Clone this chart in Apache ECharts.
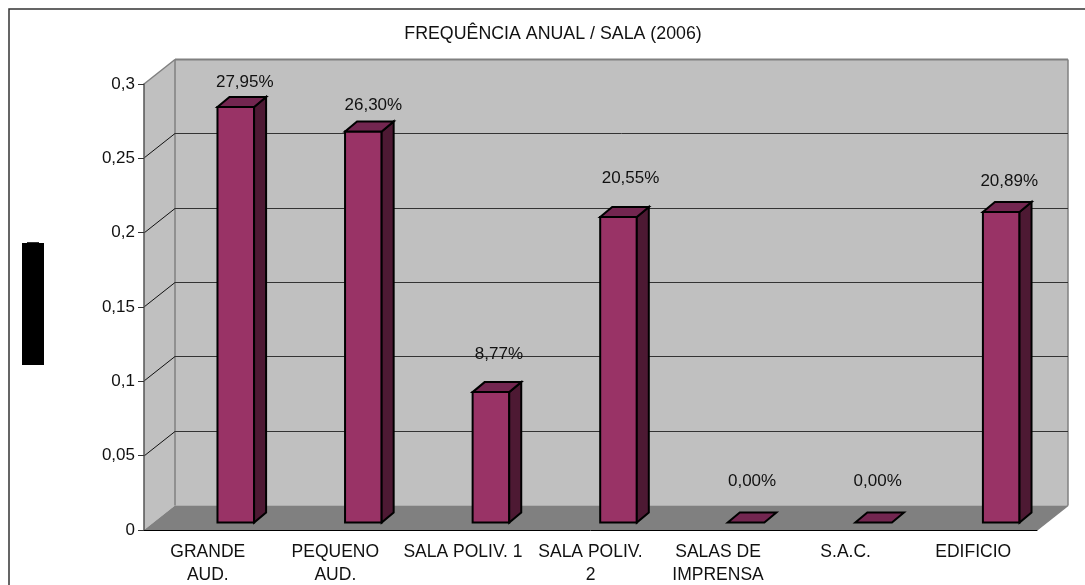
<!DOCTYPE html>
<html lang="pt">

<head>
    <title>Frequência anual / sala</title>
    <meta charset="UTF-8">
    <style type="text/css">
        html,
        body {
            width: 100%;
            height: 100%;
            margin: 0px;
            background: #fff;
        }
    </style>
    <script type="text/javascript" src="https://cdn.jsdelivr.net/npm/echarts@6/dist/echarts.min.js"></script>
</head>

<body>
    <div id="chart" style="width: 1085px; height: 585px;"></div>
</body>

<script type="text/javascript">
    var titleText = 'FREQUÊNCIA ANUAL / SALA (2006)';
    var categories = ['GRANDE\nAUD.', 'PEQUENO\nAUD.', 'SALA POLIV. 1', 'SALA POLIV.\n2', 'SALAS DE\nIMPRENSA', 'S.A.C.', 'EDIFICIO'];
    var values = [0.2795, 0.2630, 0.0877, 0.2055, 0, 0, 0.2089];
    var gridValues = [0.05, 0.1, 0.15, 0.2, 0.25];

    // the labels were moved by hand in the original, so each has its own offset
    var labelLift = [25, 26, 38, 39, 41, 41, 31];
    var labelShift = [1, 2, 0, 4, -2, -4, 0];

    var FONT = '"Liberation Sans", Arial, sans-serif';
    // depth of the fake 3D box, in pixels
    var DEPTH_X = 31;
    var DEPTH_Y = 24.5;
    // the bars
    var BAR_SHIFT_X = 28;
    var BAR_SHIFT_Y = 7.5;
    var BAR_DEPTH_X = 12;
    var BAR_DEPTH_Y = 10;
    var BAR_RATIO = 0.287;

    function poly(points, fill, stroke, width) {
        return {
            type: 'polygon',
            shape: { points: points },
            style: { fill: fill, stroke: stroke || null, lineWidth: width || 0, lineJoin: 'miter' }
        };
    }

    function line(x1, y1, x2, y2, color, width) {
        return {
            type: 'line',
            shape: { x1: x1, y1: y1, x2: x2, y2: y2 },
            style: { stroke: color, lineWidth: width, fill: null }
        };
    }

    function renderWalls(params) {
        var c = params.coordSys;
        var l = c.x, t = c.y, r = c.x + c.width, b = c.y + c.height;
        var dx = DEPTH_X, dy = DEPTH_Y;
        return {
            type: 'group',
            children: [
                poly([[l + dx, t - dy], [r + dx, t - dy], [r + dx, b - dy], [l + dx, b - dy]], '#c0c0c0'),
                poly([[l, t], [l + dx, t - dy], [l + dx, b - dy], [l, b]], '#c0c0c0'),
                poly([[l, b], [r, b], [r + dx, b - dy], [l + dx, b - dy]], '#808080'),
                line(l, t, l + dx, t - dy, '#808080', 1.5),
                line(l + dx, t - dy, r + dx, t - dy, '#808080', 2),
                line(l + dx, t - dy, l + dx, b - dy, '#808080', 1.5),
                line(r + dx, t - dy, r + dx, b - dy, '#808080', 1.5),
                line(r, b, r + dx, b - dy, '#808080', 1.5)
            ]
        };
    }

    function renderGridLine(params, api) {
        var c = params.coordSys;
        var y = Math.round(api.coord([0, api.value(1)])[1]);
        return {
            type: 'group',
            children: [
                line(c.x, y, c.x + DEPTH_X, y - DEPTH_Y, '#111', 1),
                line(c.x + DEPTH_X, y - DEPTH_Y, c.x + c.width + DEPTH_X, y - DEPTH_Y, '#333', 1)
            ]
        };
    }

    function renderBar(params, api) {
        var i = api.value(0);
        var v = api.value(1);
        var top = api.coord([i, v]);
        var base = api.coord([i, 0]);
        var w = api.size([1, 0])[0] * BAR_RATIO;
        var x0 = top[0] + BAR_SHIFT_X - w / 2;
        var x1 = x0 + w;
        var yt = top[1] - BAR_SHIFT_Y;
        var yb = base[1] - BAR_SHIFT_Y;
        var dx = BAR_DEPTH_X, dy = BAR_DEPTH_Y;
        var border = '#000';
        var kids = [];
        if (yb - yt > 0.5) {
            kids.push(poly([[x0, yt], [x1, yt], [x1, yb], [x0, yb]], '#993366', border, 2));
            kids.push(poly([[x1, yt], [x1 + dx, yt - dy], [x1 + dx, yb - dy], [x1, yb]], '#4d1933', border, 2));
        }
        kids.push(poly([[x0, yt], [x1, yt], [x1 + dx, yt - dy], [x0 + dx, yt - dy]], '#732650', border, 2));
        kids.push({
            type: 'text',
            style: {
                text: (v * 100).toFixed(2).replace('.', ',') + '%',
                x: (x0 + x1) / 2 + dx / 2 + 2 + labelShift[i],
                y: yt - labelLift[i],
                fill: '#111',
                font: '17px ' + FONT,
                align: 'center',
                verticalAlign: 'middle'
            }
        });
        return { type: 'group', children: kids };
    }

    var chart = echarts.init(document.getElementById('chart'), null, { renderer: 'canvas' });
    var options = {
        animation: false,
        backgroundColor: '#fff',
        textStyle: { fontFamily: FONT },
        title: {
            text: titleText,
            left: 548,
            top: 20,
            textAlign: 'center',
            textStyle: { fontSize: 17.8, fontWeight: 'normal', color: '#111', fontFamily: FONT }
        },
        // the labels run close to the bottom edge, do not let them shrink the grid
        grid: { left: 144, top: 84, width: 893, height: 446, outerBoundsMode: 'none' },
        xAxis: {
            type: 'category',
            data: categories,
            z: 5,
            axisLine: { lineStyle: { color: '#000', width: 1 } },
            axisTick: { length: 6, lineStyle: { color: '#333' } },
            axisLabel: { interval: 0, margin: 11, fontSize: 17.5, color: '#111', lineHeight: 23, fontFamily: FONT }
        },
        yAxis: {
            type: 'value',
            min: 0,
            max: 0.3,
            interval: 0.05,
            z: 5,
            splitLine: { show: false },
            axisLine: { show: true, lineStyle: { color: '#555', width: 1.5 } },
            axisTick: { show: true, length: 6, lineStyle: { color: '#333' } },
            axisLabel: {
                margin: 9,
                fontSize: 17,
                color: '#111',
                fontFamily: FONT,
                formatter: function (v) { return String(v).replace('.', ','); }
            }
        },
        series: [
            { type: 'custom', z: 1, silent: true, renderItem: renderWalls, data: [[0, 0]] },
            {
                type: 'custom', z: 2, silent: true, renderItem: renderGridLine,
                data: gridValues.map(function (v) { return [0, v]; })
            },
            {
                type: 'custom', z: 3, renderItem: renderBar,
                data: values.map(function (v, i) { return [i, v]; })
            }
        ],
        graphic: [
            // chart frame, only top and left are inside the picture
            { type: 'polyline', shape: { points: [[9, 585], [9, 9], [1085, 9]] }, style: { stroke: '#333', lineWidth: 1.5, fill: null } },
            // covered axis title
            { type: 'rect', shape: { x: 22, y: 243, width: 22, height: 122 }, style: { fill: '#000' } },
            { type: 'rect', shape: { x: 27, y: 242, width: 12, height: 1 }, style: { fill: '#333' } }
        ]
    };
    chart.setOption(options);
</script>

</html>
